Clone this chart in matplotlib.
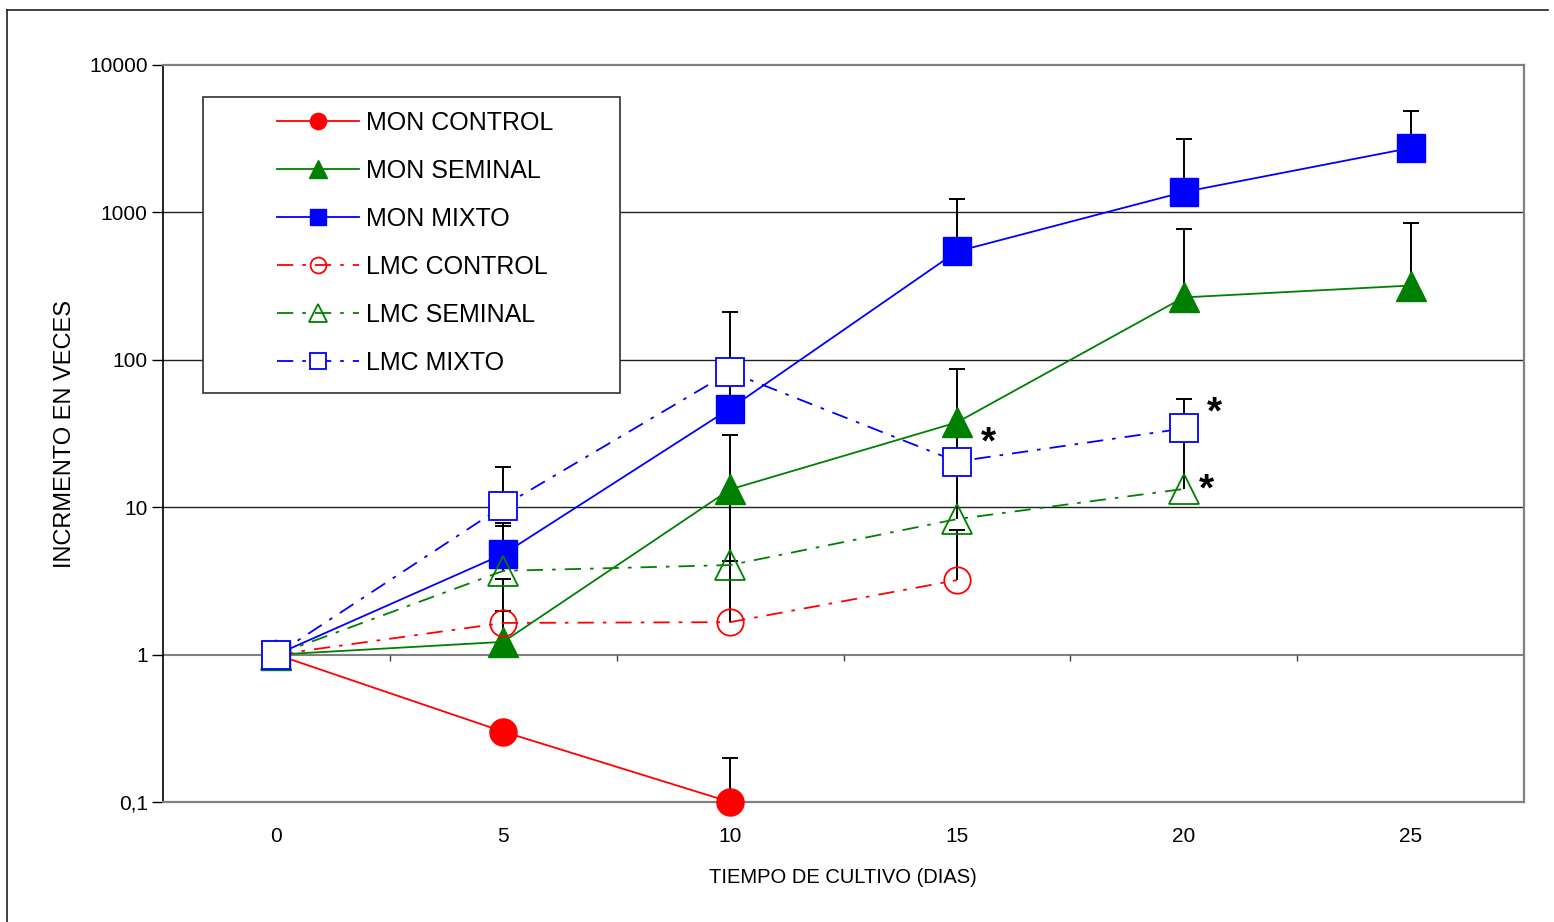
import numpy as np
import matplotlib
matplotlib.use("Agg")
import matplotlib.pyplot as plt
from matplotlib.patches import Rectangle
from matplotlib.lines import Line2D

plt.rcParams['font.family'] = ['Liberation Sans', 'DejaVu Sans']

days = [0, 5, 10, 15, 20, 25]
tick_labels = ["0", "5", "10", "15", "20", "25"]

nan = np.nan
mon_control = [1.0, 0.30, 0.10, nan, nan, nan]
mon_control_hi = [nan, nan, 0.20, nan, nan, nan]
mon_seminal = [1.0, 1.22, 13.2, 37.6, 265, 319]
mon_seminal_hi = [nan, 1.98, 31, 87, 772, 848]
mon_mixto = [1.0, 4.8, 46.7, 543, 1375, 2735]
mon_mixto_hi = [nan, 7.8, 80, 1235, 3135, 4875]
lmc_control = [1.0, 1.64, 1.66, 3.2, nan, nan]
lmc_control_hi = [nan, 3.26, 4.3, 7.0, nan, nan]
lmc_seminal = [1.0, 3.7, 4.05, 8.3, 13.3, nan]
lmc_seminal_hi = [nan, 7.45, 13.0, 20.0, 30.0, nan]
lmc_mixto = [1.0, 10.2, 82.6, 20.4, 34.2, nan]
lmc_mixto_hi = [nan, 18.7, 211, 34.0, 54.0, nan]

names = ["MON CONTROL", "MON SEMINAL", "MON MIXTO",
         "LMC CONTROL", "LMC SEMINAL", "LMC MIXTO"]
values = [mon_control, mon_seminal, mon_mixto, lmc_control, lmc_seminal, lmc_mixto]
highs = [mon_control_hi, mon_seminal_hi, mon_mixto_hi,
         lmc_control_hi, lmc_seminal_hi, lmc_mixto_hi]
colors = ["#FF0000", "#008000", "#0000FF", "#FF0000", "#008000", "#0000FF"]
markers = ["o", "^", "s", "o", "^", "s"]
msizes = [19.5, 21, 19.5, 19, 21, 19.5]
faces = ["#FF0000", "#008000", "#0000FF", "none", "none", "white"]
dashed = [False, False, False, True, True, True]

# asterisks: (day, series index)
star_points = [(15, 5), (20, 5), (20, 4)]
star_offsets = [(23, 13), (22, 11), (16.5, -1)]

fig = plt.figure(figsize=(15.54, 9.22), dpi=100)
ax = fig.add_axes([163/1554, 1-802/922, (1524-163)/1554, (802-65)/922])

x = np.array(days, dtype=float)

# error bars (plus only)
for v, h in zip(values, highs):
    v = np.array(v, dtype=float); h = np.array(h, dtype=float)
    m = ~np.isnan(h)
    ax.vlines(x[m], v[m], h[m], colors='black', linewidth=1.4, zorder=2)
    ax.plot(x[m], h[m], ls='none', marker='_', markersize=11, markeredgewidth=1.4,
            color='black', zorder=2)

handles = []
for i in range(6):
    v = np.array(values[i], dtype=float)
    kw = dict(color=colors[i], linewidth=1.3, marker=markers[i], markersize=msizes[i],
              markerfacecolor=faces[i], markeredgecolor=colors[i],
              markeredgewidth=1.3 if dashed[i] else 1.0, zorder=3 + i * 0.1,
              clip_on=False)
    if dashed[i]:
        line, = ax.plot(x, v, linestyle=(0, (9, 5, 2, 5)), **kw)
    else:
        line, = ax.plot(x, v, linestyle='-', **kw)
    handles.append(line)

ax.set_yscale('log')
ax.set_ylim(0.1, 10000)
ax.set_xlim(-2.5, 27.5)
ax.set_yticks([0.1, 1, 10, 100, 1000, 10000])
ax.set_yticklabels(["0,1", "1", "10", "100", "1000", "10000"])
ax.yaxis.set_minor_locator(matplotlib.ticker.NullLocator())
ax.tick_params(axis='y', direction='out', length=8, width=1, color='black',
               labelsize=15, pad=3)
ax.set_xticks(days)
ax.set_xticklabels(tick_labels)
ax.tick_params(axis='x', length=0, labelsize=15, pad=18)

# horizontal gridlines
for gv in [10, 100, 1000]:
    ax.axhline(gv, color='#202020', linewidth=1.0, zorder=1)

# x axis crossing at 1
ax.axhline(1, color='#808080', linewidth=1.5, zorder=1)
mids = [(a + b) / 2 for a, b in zip(days[:-1], days[1:])]
ax.plot(mids, [1] * len(mids), ls='none', marker=3, markersize=4.5,
        markeredgewidth=1.0, color='#404040', zorder=1)

for s in ['top', 'right', 'bottom']:
    ax.spines[s].set_color('#808080')
    ax.spines[s].set_linewidth(1.6)
ax.spines['left'].set_color('black')
ax.spines['left'].set_linewidth(1.2)

ax.set_ylabel("INCRMENTO EN VECES", fontsize=17)
ax.yaxis.set_label_coords(-0.064, 0.5)
ax.set_xlabel("TIEMPO DE CULTIVO (DIAS)", fontsize=14.5)
ax.xaxis.set_label_coords(0.4996, -0.090)

# asterisks
for (d, si), off in zip(star_points, star_offsets):
    yv = values[si][days.index(d)]
    ax.annotate("*", xy=(d, yv), xytext=off, textcoords='offset points',
                fontsize=28, fontweight='bold', ha='center', va='center', zorder=6)

# legend box
ax.add_patch(Rectangle((0.0294, 0.5550), 0.3358 - 0.0294, 0.9566 - 0.5550,
                       transform=ax.transAxes, facecolor='white',
                       edgecolor='#303030', linewidth=1.2, zorder=7))
leg = ax.legend(handles, names, loc='upper left',
                bbox_to_anchor=((280-163)/1361 - 0.002, (802-111)/737),
                frameon=False, fontsize=18, markerscale=0.6, handlelength=3.25,
                handletextpad=0.3, labelspacing=0.96, borderpad=0, borderaxespad=0)
leg.set_zorder(8)

# outer frame
fig.add_artist(Line2D([7/1554, 7/1554], [0, 1-10/922], transform=fig.transFigure,
                      color='#202020', linewidth=1.2))
fig.add_artist(Line2D([7/1554, 1548/1554], [1-10/922, 1-10/922], transform=fig.transFigure,
                      color='#202020', linewidth=1.2))

fig.savefig("out.png", dpi=100, facecolor='white')
